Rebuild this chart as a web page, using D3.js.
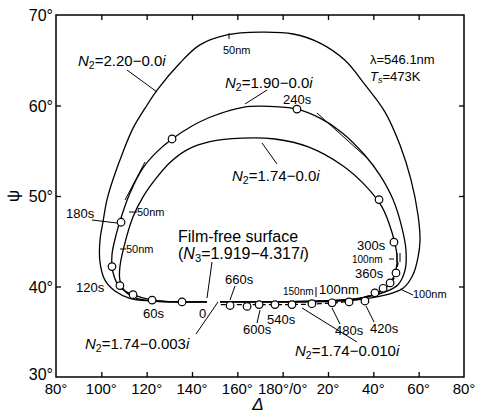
<!DOCTYPE html>
<html lang="en">
<head>
<meta charset="utf-8">
<title>Psi-Delta trajectories</title>
<script src="https://d3js.org/d3.v7.min.js"></script>
<style>
  body { margin: 0; background: #fff; }
  svg { display: block; font-family: "Liberation Sans", Arial, sans-serif; }
  .curve { fill: none; stroke: #000; stroke-width: 1.3; }
  .lead { stroke: #000; stroke-width: 1; fill: none; }
  .pt { fill: #fff; stroke: #000; stroke-width: 1.2; }
</style>
</head>
<body>
<script>
// theoretical curves, [Delta, Psi] in degrees, Delta (0-180)
var curve220 = [[146.6,38.3],[133.4,38.3],[121.5,38.4],[112.6,38.7],[106.0,39.5],[101.6,40.7],[99.4,42.7],[99.4,45.1],[100.7,47.1],[102.5,49.6],[105.1,51.8],[109.6,54.9],[114.0,57.5],[119.3,59.7],[124.6,61.7],[134.7,64.7],[143.5,66.7],[155.4,67.8],[170.0,68.1],[4.6,67.9],[16.5,66.9],[27.5,65.0],[36.3,62.3],[45.1,59.3],[51.8,55.6],[56.6,51.8],[59.7,47.9],[60.6,45.1],[59.7,43.2],[57.5,41.3],[53.1,39.8],[46.0,39.1],[31.9,38.5],[9.9,38.3],[174.4,38.3],[152.4,38.3]];
var curve190 = [[146.6,38.3],[134.7,38.3],[122.4,38.5],[114.0,39.1],[108.2,39.9],[105.1,41.6],[104.7,43.5],[106.5,45.7],[109.1,47.9],[112.6,50.3],[118.4,53.1],[124.6,54.9],[131.2,56.3],[139.1,57.6],[147.9,58.7],[162.5,59.8],[174.4,59.9],[6.3,59.6],[16.5,58.6],[26.2,57.0],[36.3,54.5],[42.9,52.3],[48.7,49.6],[52.6,46.5],[54.4,44.0],[54.0,41.8],[50.9,40.2],[45.1,39.4],[34.1,38.7],[16.5,38.4],[174.4,38.3],[152.4,38.3]];
var curve174 = [[146.6,38.3],[134.7,38.3],[123.7,38.4],[115.7,38.7],[110.4,39.5],[108.2,40.7],[108.2,42.2],[110.4,44.8],[114.0,47.7],[118.4,49.9],[123.7,51.8],[130.3,53.7],[137.8,55.1],[147.9,56.0],[162.1,56.4],[176.6,56.3],[11.6,55.4],[26.2,53.4],[36.3,51.2],[43.8,48.8],[48.2,46.0],[50.4,43.5],[50.0,41.8],[47.4,40.4],[42.1,39.3],[31.9,38.6],[16.5,38.4],[174.4,38.3],[152.4,38.3]];
var curve174abs = [[50.9,42.7],[49.1,40.9],[45.1,39.8],[39.4,39.1],[29.7,38.4],[16.5,38.1],[3.2,38.0],[165.6,38.0],[152.4,38.0]];

// measured points (30 s steps)
var pointDelta = [135.6,122.4,114.0,108.2,104.7,108.7,131.2,6.3,42.5,49.1,50.0,47.4,44.3,40.7,36.3,29.3,21.8,12.9,4.1,176.6,169.6,164.3,156.8];
var pointPsi   = [38.3,38.5,39.1,40.1,42.2,47.1,56.3,59.6,49.6,44.9,41.5,40.4,39.8,39.3,38.4,38.3,38.2,38.1,38.0,38.0,38.0,37.8,37.9];

var xTicks = [80,100,120,140,160,180,200,220,240,260];
var yTicks = [30,40,50,60,70];

var W = 484, H = 414;
var svg = d3.select("body").append("svg").attr("width", W).attr("height", H);

// Delta wraps at 180/0, so the axis runs 80..180 then 0..80
function unwrap(d) { return d < 80 ? d + 180 : d; }
var x = d3.scaleLinear().domain([80, 260]).range([56, 464]);
var y = d3.scaleLinear().domain([30, 70]).range([377, 15]);

function tickText(v) {
  if (v == 180) return "180°/0°";
  return (v > 180 ? v - 180 : v) + "°";
}

// frame
svg.append("rect").attr("x", x(80)).attr("y", y(70))
  .attr("width", x(260) - x(80)).attr("height", y(30) - y(70))
  .attr("fill", "none").attr("stroke", "#000").attr("stroke-width", 1.5);

svg.append("g").attr("transform", "translate(0," + y(30) + ")")
  .call(d3.axisTop(x).tickValues(xTicks.slice(1, -1)).tickSize(5).tickFormat(""));
svg.append("g").attr("transform", "translate(0," + y(70) + ")")
  .call(d3.axisBottom(x).tickValues(xTicks.slice(1, -1)).tickSize(5).tickFormat(""));
svg.append("g").attr("transform", "translate(" + x(80) + ",0)")
  .call(d3.axisRight(y).tickValues(yTicks.slice(1, -1)).tickSize(5).tickFormat(""));
svg.append("g").attr("transform", "translate(" + x(260) + ",0)")
  .call(d3.axisLeft(y).tickValues(yTicks.slice(1, -1)).tickSize(5).tickFormat(""));
svg.selectAll(".domain").remove();
svg.selectAll(".tick line").attr("stroke-width", 1.3);

// tick labels
svg.append("g").selectAll("text").data(xTicks).enter().append("text")
  .attr("x", function(d) { return x(d); })
  .attr("y", 394)
  .attr("text-anchor", "middle")
  .style("font-size", "15px")
  .text(tickText);
svg.append("g").selectAll("text").data(yTicks).enter().append("text")
  .attr("x", 53)
  .attr("y", function(d) { return y(d) + (d == 30 ? 3 : 6); })
  .attr("text-anchor", "end")
  .style("font-size", "16px")
  .text(function(d) { return d + "°"; });

// axis titles
svg.append("text").attr("transform", "translate(19," + y(50) + ") rotate(-90)")
  .attr("text-anchor", "middle").style("font-size", "17px").text("ψ");
svg.append("text").attr("x", 258).attr("y", 410).attr("text-anchor", "middle")
  .style("font-size", "17px").style("font-style", "italic").text("Δ");

// curves
var line = d3.line()
  .x(function(d) { return x(unwrap(d[0])); })
  .y(function(d) { return y(d[1]); })
  .curve(d3.curveCatmullRom.alpha(0.5));

[curve220, curve190, curve174].forEach(function(c) {
  svg.append("path").attr("class", "curve").attr("d", line(c));
});
svg.append("path").attr("class", "curve").attr("d", line(curve174abs))
  .attr("stroke-dasharray", "5,3");

// measured points
svg.append("g").selectAll("circle").data(pointDelta).enter().append("circle")
  .attr("class", "pt")
  .attr("cx", function(d) { return x(unwrap(d)); })
  .attr("cy", function(d, i) { return y(pointPsi[i]); })
  .attr("r", 3.8);

// labels
function nLabel(pre, sub, rest, px, py, size) {
  var t = svg.append("text").attr("x", px).attr("y", py).style("font-size", size + "px");
  if (pre) t.append("tspan").text(pre);
  t.append("tspan").style("font-style", "italic").text("N");
  t.append("tspan").attr("dy", 3).style("font-size", (size * 0.7) + "px").text(sub);
  t.append("tspan").attr("dy", -3).text(rest);
  t.append("tspan").style("font-style", "italic").text("i");
  return t;
}
nLabel("", "2", "=2.20−0.0", 78, 66, 15);
nLabel("", "2", "=1.90−0.0", 225, 88, 15);
nLabel("", "2", "=1.74−0.0", 232, 181, 15);
nLabel("", "2", "=1.74−0.003", 85, 349, 15);
nLabel("", "2", "=1.74−0.010", 295, 356, 15);
nLabel("(", "3", "=1.919−4.317", 178, 259, 16).append("tspan").text(")");

svg.append("text").attr("x", 178).attr("y", 242).style("font-size", "16px").text("Film-free surface");
svg.append("text").attr("x", 370).attr("y", 64).style("font-size", "13px").text("λ=546.1nm");
var ts = svg.append("text").attr("x", 370).attr("y", 81).style("font-size", "13px");
ts.append("tspan").style("font-style", "italic").text("T");
ts.append("tspan").attr("dy", 2).style("font-size", "9px").style("font-style", "italic").text("s");
ts.append("tspan").attr("dy", -2).text("=473K");

var texts = [
  ["50nm", 223, 54, 11], ["240s", 283, 104, 13], ["180s", 66, 218, 13],
  ["50nm", 137, 216, 11], ["50nm", 126, 253, 11], ["120s", 76, 292, 13],
  ["60s", 143, 318, 13], ["0", 199, 318, 13], ["660s", 225, 284, 13],
  ["600s", 243, 334, 13], ["540s", 267, 324, 13], ["480s", 335, 335, 13],
  ["420s", 370, 333, 13], ["300s", 357, 250, 13], ["100nm", 352, 263, 10],
  ["360s", 355, 278, 13], ["150nm", 283, 295, 10], ["100nm", 319, 294, 13],
  ["100nm", 413, 298, 11]
];
texts.forEach(function(t) {
  svg.append("text").attr("x", t[1]).attr("y", t[2]).style("font-size", t[3] + "px").text(t[0]);
});

var leaders = [
  [127,70,157,92], [267,90,245,104], [262,143,277,164], [229,33,229,39],
  [92,220,117,223], [129,212,137,212], [120,249,126,249],
  [212,262,207,298], [235,286,230,300], [257,323,260,310], [340,324,332,308],
  [374,322,366,306], [357,342,302,308], [196,334,218,302],
  [389,259,394,259], [397,253,397,262], [400,253,400,262], [316,287,316,297],
  [400,289,413,295],
  [125,200,145,162], [317,113,367,158]
];
leaders.forEach(function(l) {
  svg.append("line").attr("class", "lead")
    .attr("x1", l[0]).attr("y1", l[1]).attr("x2", l[2]).attr("y2", l[3]);
});
</script>
</body>
</html>
